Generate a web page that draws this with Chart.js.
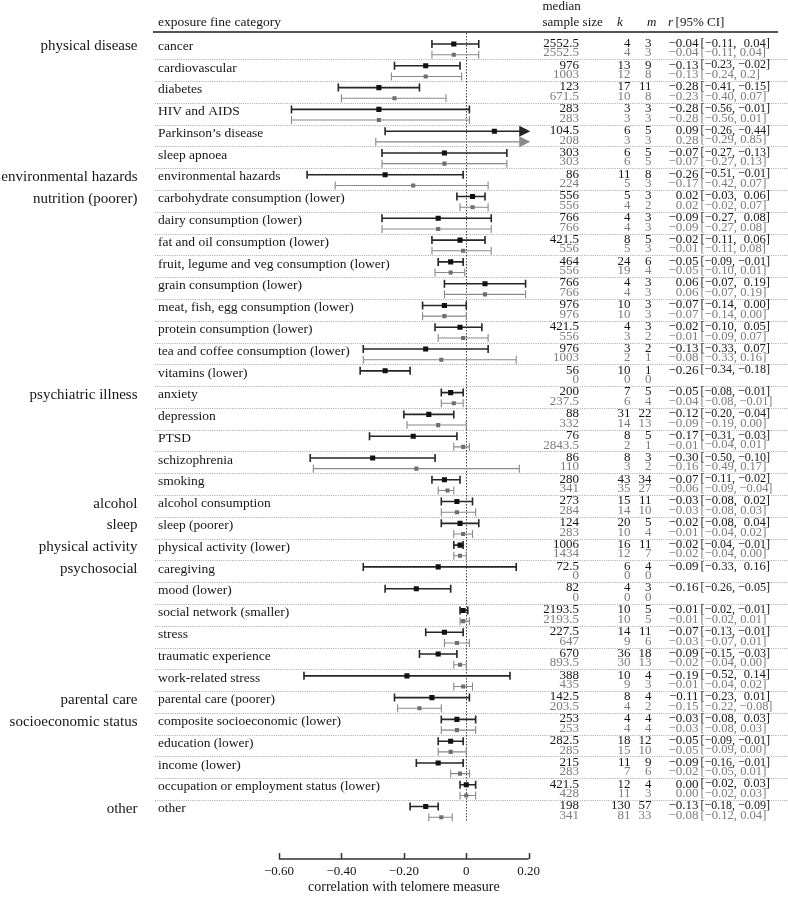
<!DOCTYPE html>
<html>
<head>
<meta charset="utf-8">
<script src="https://cdn.jsdelivr.net/npm/chart.js@4.4.1/dist/chart.umd.min.js"></script>
<style>
  html, body { margin: 0; padding: 0; background: #fff; }
  #wrap { width: 788px; height: 898px; position: relative; }
</style>
</head>
<body>
<div id="wrap"><canvas id="forest"></canvas></div>
<script>
const categories = [
    "cancer", "cardiovascular", "diabetes", "HIV and AIDS", "Parkinson\u2019s disease", "sleep apnoea",
    "environmental hazards", "carbohydrate consumption (lower)", "dairy consumption (lower)",
    "fat and oil consumption (lower)", "fruit, legume and veg consumption (lower)", "grain consumption (lower)",
    "meat, fish, egg consumption (lower)", "protein consumption (lower)", "tea and coffee consumption (lower)",
    "vitamins (lower)", "anxiety", "depression", "PTSD", "schizophrenia", "smoking", "alcohol consumption",
    "sleep (poorer)", "physical activity (lower)", "caregiving", "mood (lower)", "social network (smaller)",
    "stress", "traumatic experience", "work-related stress", "parental care (poorer)",
    "composite socioeconomic (lower)", "education (lower)", "income (lower)",
    "occupation or employment status (lower)", "other"
];

// group label -> index of its first category row
const groupNames = ["physical disease", "environmental hazards", "nutrition (poorer)", "psychiatric illness",
    "alcohol", "sleep", "physical activity", "psychosocial", "parental care", "socioeconomic status", "other"];
const groupStart = [0, 6, 7, 16, 21, 22, 23, 24, 30, 31, 35];

// all studies (black)
const allN = ["2552.5", "976", "123", "283", "104.5", "303", "86", "556", "766", "421.5", "464", "766", "976",
    "421.5", "976", "56", "200", "88", "76", "86", "280", "273", "124", "1006", "72.5", "82", "2193.5", "227.5",
    "670", "388", "142.5", "253", "282.5", "215", "421.5", "198"];
const allK = [4, 13, 17, 3, 6, 6, 11, 5, 4, 8, 24, 4, 10, 4, 3, 10, 7, 31, 8, 8, 43, 15, 20, 16, 6, 4, 10, 14, 36, 10, 8, 4, 18, 11, 12, 130];
const allM = [3, 9, 11, 3, 5, 5, 8, 3, 3, 5, 6, 3, 3, 3, 2, 1, 5, 22, 5, 3, 34, 11, 5, 11, 4, 3, 5, 11, 18, 4, 4, 4, 12, 9, 4, 57];
const allR = [-0.04, -0.13, -0.28, -0.28, 0.09, -0.07, -0.26, 0.02, -0.09, -0.02, -0.05, 0.06, -0.07, -0.02, -0.13, -0.26,
    -0.05, -0.12, -0.17, -0.30, -0.07, -0.03, -0.02, -0.02, -0.09, -0.16, -0.01, -0.07, -0.09, -0.19, -0.11, -0.03,
    -0.05, -0.09, 0.00, -0.13];
const allLo = [-0.11, -0.23, -0.41, -0.56, -0.26, -0.27, -0.51, -0.03, -0.27, -0.11, -0.09, -0.07, -0.14, -0.10, -0.33, -0.34,
    -0.08, -0.20, -0.31, -0.50, -0.11, -0.08, -0.08, -0.04, -0.33, -0.26, -0.02, -0.13, -0.15, -0.52, -0.23, -0.08,
    -0.09, -0.16, -0.02, -0.18];
const allHi = [0.04, -0.02, -0.15, 0.01, 0.44, 0.13, -0.01, 0.06, 0.08, 0.06, -0.01, 0.19, 0.00, 0.05, 0.07, -0.18,
    -0.01, -0.04, -0.03, -0.10, -0.02, 0.02, 0.04, -0.01, 0.16, -0.05, 0.005, -0.01, -0.03, 0.14, 0.01, 0.03,
    -0.01, -0.01, 0.03, -0.09];
const allCI = ["\u22120.04 [\u22120.11, 0.04]", "\u22120.13 [\u22120.23, \u22120.02]", "\u22120.28 [\u22120.41, \u22120.15]",
    "\u22120.28 [\u22120.56, \u22120.01]", "0.09 [\u22120.26, \u22120.44]", "\u22120.07 [\u22120.27, \u22120.13]",
    "\u22120.26 [\u22120.51, \u22120.01]", "0.02 [\u22120.03, 0.06]", "\u22120.09 [\u22120.27, 0.08]",
    "\u22120.02 [\u22120.11, 0.06]", "\u22120.05 [\u22120.09, \u22120.01]", "0.06 [\u22120.07, 0.19]",
    "\u22120.07 [\u22120.14, 0.00]", "\u22120.02 [\u22120.10, 0.05]", "\u22120.13 [\u22120.33, 0.07]",
    "\u22120.26 [\u22120.34, \u22120.18]", "\u22120.05 [\u22120.08, \u22120.01]", "\u22120.12 [\u22120.20, \u22120.04]",
    "\u22120.17 [\u22120.31, \u22120.03]", "\u22120.30 [\u22120.50, \u22120.10]", "\u22120.07 [\u22120.11, \u22120.02]",
    "\u22120.03 [\u22120.08, 0.02]", "\u22120.02 [\u22120.08, 0.04]", "\u22120.02 [\u22120.04, \u22120.01]",
    "\u22120.09 [\u22120.33, 0.16]", "\u22120.16 [\u22120.26, \u22120.05]", "\u22120.01 [\u22120.02, \u22120.01]",
    "\u22120.07 [\u22120.13, \u22120.01]", "\u22120.09 [\u22120.15, \u22120.03]", "\u22120.19 [\u22120.52, 0.14]",
    "\u22120.11 [\u22120.23, 0.01]", "\u22120.03 [\u22120.08, 0.03]", "\u22120.05 [\u22120.09, \u22120.01]",
    "\u22120.09 [\u22120.16, \u22120.01]", "0.00 [\u22120.02, 0.03]", "\u22120.13 [\u22120.18, \u22120.09]"];

// subset (grey)
const subN = ["2552.5", "1003", "671.5", "283", "208", "303", "224", "556", "766", "556", "556", "766", "976", "556",
    "1003", "0", "237.5", "332", "2843.5", "110", "341", "284", "283", "1434", "0", "0", "2193.5", "647", "893.5",
    "435", "203.5", "253", "285", "283", "428", "341"];
const subK = [4, 12, 10, 3, 3, 6, 5, 4, 4, 5, 19, 4, 10, 3, 2, 0, 6, 14, 2, 3, 35, 14, 10, 12, 0, 0, 10, 9, 30, 9, 4, 4, 15, 7, 11, 81];
const subM = [3, 8, 8, 3, 3, 5, 3, 2, 3, 3, 4, 3, 3, 2, 1, 0, 4, 13, 1, 2, 27, 10, 4, 7, 0, 0, 5, 6, 13, 3, 2, 4, 10, 6, 3, 33];
const subR = [-0.04, -0.13, -0.23, -0.28, 0.28, -0.07, -0.17, 0.02, -0.09, -0.01, -0.05, 0.06, -0.07, -0.01, -0.08, null,
    -0.04, -0.09, -0.01, -0.16, -0.06, -0.03, -0.01, -0.02, null, null, -0.01, -0.03, -0.02, -0.01, -0.15, -0.03,
    -0.05, -0.02, 0.00, -0.08];
const subLo = [-0.11, -0.24, -0.40, -0.56, -0.29, -0.27, -0.42, -0.02, -0.27, -0.11, -0.10, -0.07, -0.14, -0.09, -0.33, null,
    -0.08, -0.19, -0.04, -0.49, -0.09, -0.08, -0.04, -0.04, null, null, -0.02, -0.07, -0.04, -0.04, -0.22, -0.08,
    -0.09, -0.05, -0.02, -0.12];
const subHi = [0.04, -0.015, -0.065, 0.01, 0.85, 0.13, 0.07, 0.07, 0.08, 0.08, -0.005, 0.19, 0.00, 0.07, 0.16, null,
    -0.01, 0.00, 0.01, 0.17, -0.04, 0.03, 0.02, 0.00, null, null, 0.01, 0.01, 0.00, 0.02, -0.08, 0.03,
    0.00, 0.01, 0.03, -0.045];
const subCI = ["\u22120.04 [\u22120.11, 0.04]", "\u22120.13 [\u22120.24, 0.2]", "\u22120.23 [\u22120.40, 0.07]",
    "\u22120.28 [\u22120.56, 0.01]", "0.28 [\u22120.29, 0.85]", "\u22120.07 [\u22120.27, 0.13]",
    "\u22120.17 [\u22120.42, 0.07]", "0.02 [\u22120.02, 0.07]", "\u22120.09 [\u22120.27, 0.08]",
    "\u22120.01 [\u22120.11, 0.08]", "\u22120.05 [\u22120.10, 0.01]", "0.06 [\u22120.07, 0.19]",
    "\u22120.07 [\u22120.14, 0.00]", "\u22120.01 [\u22120.09, 0.07]", "\u22120.08 [\u22120.33, 0.16]", "",
    "\u22120.04 [\u22120.08, \u22120.01]", "\u22120.09 [\u22120.19, 0.00]", "\u22120.01 [\u22120.04, 0.01]",
    "\u22120.16 [\u22120.49, 0.17]", "\u22120.06 [\u22120.09, \u22120.04]", "\u22120.03 [\u22120.08, 0.03]",
    "\u22120.01 [\u22120.04, 0.02]", "\u22120.02 [\u22120.04, 0.00]", "", "", "\u22120.01 [\u22120.02, 0.01]",
    "\u22120.03 [\u22120.07, 0.01]", "\u22120.02 [\u22120.04, 0.00]", "\u22120.01 [\u22120.04, 0.02]",
    "\u22120.15 [\u22120.22, \u22120.08]", "\u22120.03 [\u22120.08, 0.03]", "\u22120.05 [\u22120.09, 0.00]",
    "\u22120.02 [\u22120.05, 0.01]", "0.00 [\u22120.02, 0.03]", "\u22120.08 [\u22120.12, 0.04]"];

const xTicks = [-0.6, -0.4, -0.2, 0, 0.2];
const xTickLabels = ["\u22120.60", "\u22120.40", "\u22120.20", "0", "0.20"];

const BLACK_OFF = -0.2, GREY_OFF = 0.29;
const SERIF = "'Liberation Serif', 'Times New Roman', serif";
const INK = "#161616", GREY_INK = "#7c7c7c", GREY_MARK = "#6f6f6f";

function bar(ctx, xs, y, lo, hi, color, lw) {
    const xMax = 0.205;
    const x1 = xs.getPixelForValue(lo);
    const arrow = hi > 0.2;
    const x2 = arrow ? xs.getPixelForValue(xMax) - 10 : xs.getPixelForValue(hi);
    ctx.strokeStyle = color;
    ctx.fillStyle = color;
    ctx.lineWidth = lw;
    ctx.beginPath();
    ctx.moveTo(x1, y); ctx.lineTo(x2, y);
    ctx.moveTo(x1, y - 4); ctx.lineTo(x1, y + 4);
    if (!arrow) { ctx.moveTo(x2, y - 4); ctx.lineTo(x2, y + 4); }
    ctx.stroke();
    if (arrow) {
        const tip = xs.getPixelForValue(xMax);
        ctx.beginPath();
        ctx.moveTo(tip - 11, y - 5.5);
        ctx.lineTo(tip, y);
        ctx.lineTo(tip - 11, y + 5.5);
        ctx.closePath();
        ctx.fill();
    }
}

function splitCI(s) {
    const r = s.slice(0, s.indexOf(" ["));
    const rest = s.slice(s.indexOf(" [") + 1);
    const lo = rest.slice(0, rest.indexOf(",") + 1);
    const hi = rest.slice(rest.indexOf(",") + 2);
    return { r, lo, hi, rest };
}

const forestPlugin = {
    id: "forest",
    beforeDatasetsDraw(chart) {
        const { ctx, scales: { x: xs, y: ys } } = chart;
        ctx.save();
        // row separators
        ctx.strokeStyle = "#a8a8a8";
        ctx.lineWidth = 1;
        ctx.setLineDash([1, 1.2]);
        for (let i = 1; i < categories.length; i++) {
            const y = Math.round(ys.getPixelForValue(i - 0.5)) + 0.5;
            ctx.beginPath(); ctx.moveTo(155, y); ctx.lineTo(788, y); ctx.stroke();
        }
        // zero line
        ctx.strokeStyle = "#444";
        ctx.setLineDash([1.5, 1.5]);
        const zx = Math.round(xs.getPixelForValue(0)) + 0.5;
        ctx.beginPath(); ctx.moveTo(zx, 33); ctx.lineTo(zx, ys.getPixelForValue(35.5)); ctx.stroke();
        ctx.setLineDash([]);
        // header rule
        ctx.strokeStyle = "#555";
        ctx.lineWidth = 2;
        ctx.beginPath(); ctx.moveTo(153, 32); ctx.lineTo(778, 32); ctx.stroke();
        // error bars
        categories.forEach((c, i) => {
            if (subR[i] !== null) bar(ctx, xs, ys.getPixelForValue(i + GREY_OFF), subLo[i], subHi[i], "#8a8a8a", 1.1);
            bar(ctx, xs, ys.getPixelForValue(i + BLACK_OFF), allLo[i], allHi[i], "#262626", 1.6);
        });
        ctx.restore();
    },
    afterDraw(chart) {
        const { ctx, scales: { x: xs, y: ys } } = chart;
        ctx.save();
        ctx.textBaseline = "middle";

        // header
        ctx.fillStyle = INK;
        ctx.font = "13.5px " + SERIF;
        ctx.textAlign = "left";
        ctx.fillText("exposure fine category", 158, 22);
        ctx.font = "13px " + SERIF;
        ctx.fillText("median", 542.5, 7);
        ctx.fillText("sample size", 542.5, 23);
        ctx.font = "italic 13px " + SERIF;
        ctx.fillText("k", 617, 23);
        ctx.fillText("m", 647, 23);
        ctx.fillText("r", 668, 23);
        ctx.font = "13px " + SERIF;
        ctx.fillText(" [95% CI]", 668 + ctx.measureText("r").width, 23);

        // group labels
        ctx.font = "15px " + SERIF;
        ctx.textAlign = "right";
        groupNames.forEach((g, j) => {
            ctx.fillText(g, 137.5, ys.getPixelForValue(groupStart[j] - 0.1));
        });

        // category labels
        ctx.font = "13.5px " + SERIF;
        ctx.textAlign = "left";
        categories.forEach((c, i) => {
            ctx.fillText(c, 158, ys.getPixelForValue(i - 0.1));
        });

        // table columns
        categories.forEach((c, i) => {
            const yb = ys.getPixelForValue(i - 0.23);
            const yg = ys.getPixelForValue(i + 0.21);
            ctx.font = "13px " + SERIF;
            ctx.fillStyle = INK;
            ctx.textAlign = "right";
            ctx.fillText(allN[i], 579, yb);
            ctx.fillText(String(allK[i]), 630.5, yb);
            ctx.fillText(String(allM[i]), 651.5, yb);
            const a = splitCI(allCI[i]);
            ctx.fillText(a.r, 698.5, yb);
            ctx.font = "12.6px " + SERIF;
            const hiW = Math.min(ctx.measureText(a.hi).width, 32);
            ctx.fillText(a.hi, 770, yb, hiW);
            const loRoom = 770 - hiW - 3 - 700.5;
            ctx.textAlign = "left";
            ctx.fillText(a.lo, 700.5, yb, Math.min(ctx.measureText(a.lo).width, loRoom));

            ctx.font = "13px " + SERIF;
            ctx.fillStyle = GREY_INK;
            ctx.textAlign = "right";
            ctx.fillText(subN[i], 579, yg);
            ctx.fillText(String(subK[i]), 630.5, yg);
            ctx.fillText(String(subM[i]), 651.5, yg);
            if (subCI[i]) {
                const s = splitCI(subCI[i]);
                ctx.fillText(s.r, 698.5, yg);
                ctx.font = "12.6px " + SERIF;
                ctx.textAlign = "left";
                ctx.fillText(s.rest, 700.5, yg, Math.min(ctx.measureText(s.rest).width, 72));
            }
        });

        // x axis
        const axisY = 859;
        ctx.strokeStyle = "#333";
        ctx.lineWidth = 1.5;
        ctx.beginPath();
        ctx.moveTo(xs.getPixelForValue(xTicks[0]), axisY);
        ctx.lineTo(xs.getPixelForValue(xTicks[xTicks.length - 1]), axisY);
        xTicks.forEach(t => {
            const px = Math.round(xs.getPixelForValue(t)) + 0.5;
            ctx.moveTo(px, axisY); ctx.lineTo(px, axisY - 6);
        });
        ctx.stroke();
        ctx.fillStyle = INK;
        ctx.textAlign = "center";
        ctx.font = "13px " + SERIF;
        xTicks.forEach((t, j) => ctx.fillText(xTickLabels[j], xs.getPixelForValue(t), 872));
        ctx.font = "14px " + SERIF;
        ctx.fillText("correlation with telomere measure", xs.getPixelForValue(-0.2), 887);
        ctx.restore();
    }
};

new Chart(document.getElementById("forest"), {
    type: "scatter",
    data: {
        datasets: [
            {
                label: "subset",
                data: categories.map((c, i) => ({ x: subR[i], y: i + GREY_OFF })).filter(p => p.x !== null),
                pointStyle: "rect",
                pointRadius: 2.9,
                backgroundColor: GREY_MARK,
                borderWidth: 0
            },
            {
                label: "all",
                data: categories.map((c, i) => ({ x: allR[i], y: i + BLACK_OFF })),
                pointStyle: "rect",
                pointRadius: 3.6,
                backgroundColor: "#111",
                borderWidth: 0
            }
        ]
    },
    options: {
        responsive: true,
        maintainAspectRatio: false,
        animation: false,
        events: [],
        layout: { padding: { left: 279, right: 259.3, top: 37.5, bottom: 76.2 } },
        plugins: { legend: { display: false }, tooltip: { enabled: false } },
        scales: {
            x: { type: "linear", min: -0.6, max: 0.2, display: false },
            y: { type: "linear", min: -0.5, max: 35.5, reverse: true, display: false }
        }
    },
    plugins: [forestPlugin]
});
</script>
</body>
</html>
